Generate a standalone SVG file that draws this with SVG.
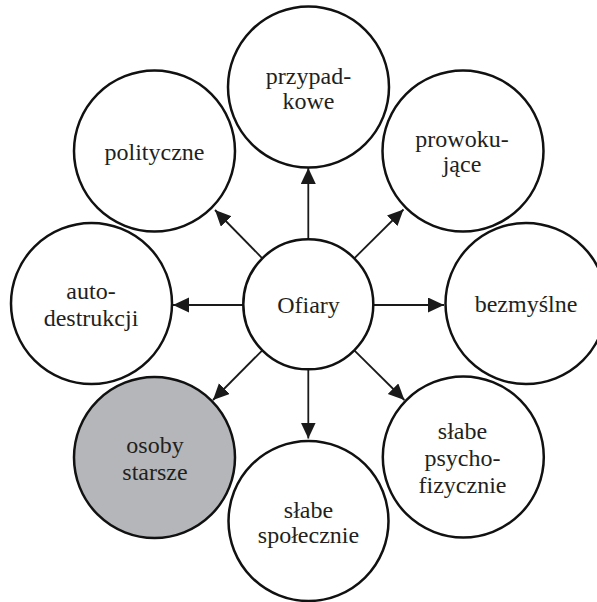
<svg xmlns="http://www.w3.org/2000/svg" width="597" height="602" viewBox="0 0 597 602">
<defs>
<style>
.node{fill:#fff;stroke:#111;stroke-width:2.5}
.gray{fill:#b4b6b9}
.t{font-family:"Liberation Serif","Times New Roman",serif;font-size:24px;fill:#231f20;text-anchor:middle}
.c{stroke:#1a1a1a;stroke-width:1.8;fill:none}
</style>
<marker id="ah" markerUnits="userSpaceOnUse" markerWidth="17" markerHeight="16" refX="16" refY="7.5" orient="auto">
<path d="M0,0 L16,7.5 L0,15 z" fill="#1a1a1a"/>
</marker>
</defs>
<rect width="597" height="602" fill="#fff"/>
<g id="connectors">
<line class="c" x1="308.3" y1="239.3" x2="308.3" y2="168" marker-end="url(#ah)"/>
<line class="c" x1="262.3" y1="258.3" x2="215" y2="210" marker-end="url(#ah)"/>
<line class="c" x1="354.3" y1="258.3" x2="403.5" y2="209.5" marker-end="url(#ah)"/>
<line class="c" x1="243.3" y1="305" x2="173" y2="305" marker-end="url(#ah)"/>
<line class="c" x1="373.3" y1="305" x2="444" y2="305" marker-end="url(#ah)"/>
<line class="c" x1="262.3" y1="350.3" x2="213" y2="400" marker-end="url(#ah)"/>
<line class="c" x1="308.3" y1="369.3" x2="308.3" y2="438.5" marker-end="url(#ah)"/>
<line class="c" x1="354.3" y1="350.3" x2="404.4" y2="400" marker-end="url(#ah)"/>
</g>
<g id="przypadkowe">
<circle class="node" cx="308.5" cy="87" r="80.5"/>
<text class="t" x="308.5" y="83.5">przypad-</text>
<text class="t" x="308.5" y="108.5">kowe</text>
</g>
<g id="polityczne">
<circle class="node" cx="154.5" cy="151" r="80.5"/>
<text class="t" x="154.5" y="160">polityczne</text>
</g>
<g id="prowokujace">
<circle class="node" cx="463" cy="151" r="80.5"/>
<text class="t" x="462" y="146.5">prowoku-</text>
<text class="t" x="462" y="171.5">jące</text>
</g>
<g id="autodestrukcji">
<circle class="node" cx="91.5" cy="303.5" r="80.5"/>
<text class="t" x="91" y="299.3">auto-</text>
<text class="t" x="91" y="326">destrukcji</text>
</g>
<g id="ofiary">
<circle class="node" cx="308.3" cy="304.3" r="65"/>
<text class="t" x="308.5" y="312.7">Ofiary</text>
</g>
<g id="bezmyslne">
<circle class="node" cx="526" cy="303.5" r="80.5"/>
<text class="t" x="526" y="312">bezmyślne</text>
</g>
<g id="osoby-starsze">
<circle class="node gray" cx="154.5" cy="457.5" r="80.5"/>
<text class="t" x="155" y="453.3">osoby</text>
<text class="t" x="155" y="480">starsze</text>
</g>
<g id="slabe-spolecznie">
<circle class="node" cx="308.5" cy="521" r="80"/>
<text class="t" x="308.5" y="518.3">słabe</text>
<text class="t" x="308.5" y="543.3">społecznie</text>
</g>
<g id="slabe-psychofizycznie">
<circle class="node" cx="463.3" cy="457" r="80.5"/>
<text class="t" x="462.5" y="439.3">słabe</text>
<text class="t" x="462.5" y="466.3">psycho-</text>
<text class="t" x="462.5" y="492.7">fizycznie</text>
</g>
</svg>
